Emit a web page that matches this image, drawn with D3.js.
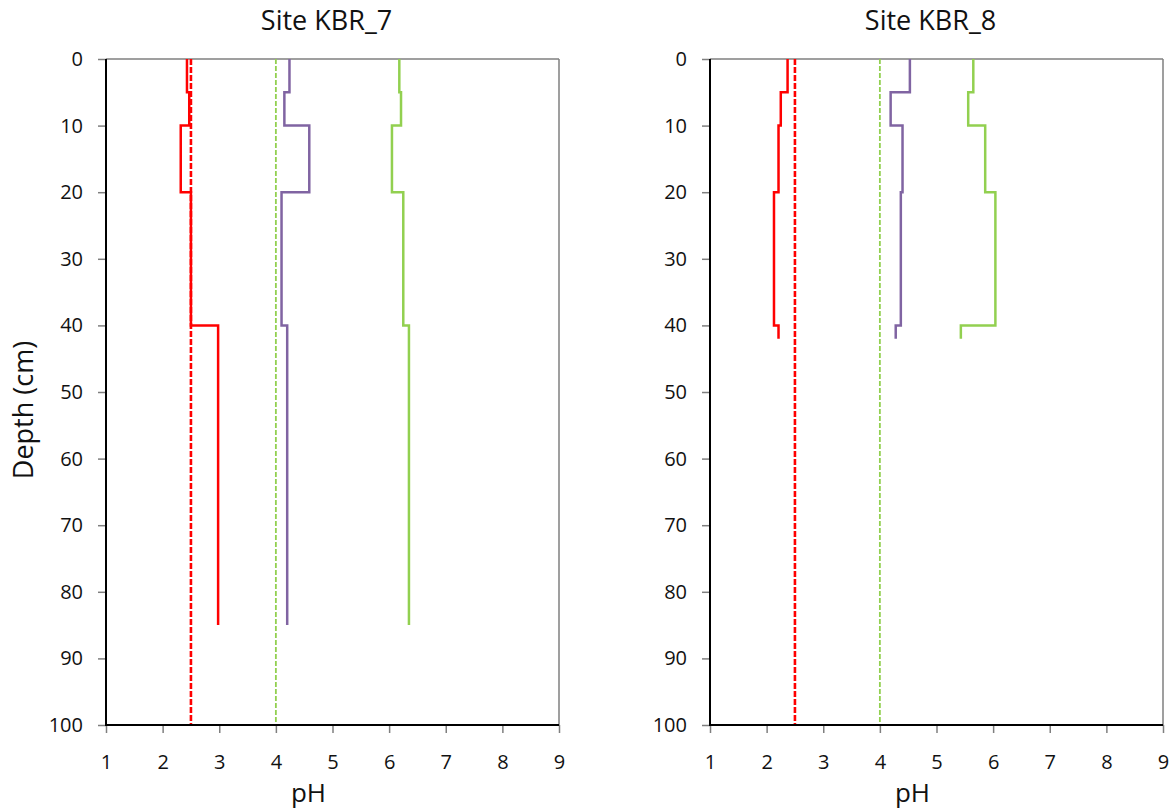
<!DOCTYPE html>
<html><head><meta charset="utf-8">
<script src="https://cdn.jsdelivr.net/npm/d3@7"></script>
<style>body{margin:0;background:#fff;} text{font-family:"Open Sans",sans-serif;fill:#111;}</style>
</head><body>
<svg id="c" width="1176" height="811"></svg>
<script>
// depth intervals (cm) as boundaries; values per interval
const sites = ["Site KBR_7", "Site KBR_8"];
const depths7 = [0, 5, 10, 20, 40, 85];
const red7 = [2.43, 2.47, 2.32, 2.50, 2.98];
const purple7 = [4.24, 4.15, 4.59, 4.10, 4.20];
const green7 = [6.18, 6.21, 6.05, 6.25, 6.35];
const depths8 = [0, 5, 10, 20, 40, 42];
const red8 = [2.37, 2.25, 2.21, 2.13, 2.21];
const purple8 = [4.53, 4.19, 4.40, 4.37, 4.28];
const green8 = [5.65, 5.56, 5.86, 6.04, 5.43];
const refRed = 2.5, refGreen = 4.0;
const xTicks = [1, 2, 3, 4, 5, 6, 7, 8, 9];
const yTicks = [0, 10, 20, 30, 40, 50, 60, 70, 80, 90, 100];

(function () {
const svg = d3.select("#c");
const panels = [
  {title: sites[0], left: 106, depths: depths7, series: [red7, purple7, green7]},
  {title: sites[1], left: 710, depths: depths8, series: [red8, purple8, green8]}
];
const colors = ["#FF0000", "#8064A2", "#92D050"];
const plotTop = 59, plotBottom = 725, plotWidth = 453;
const FONT = "'Open Sans', sans-serif";

function stepPoints(depths, vals) {
  const pts = [];
  vals.forEach((v, i) => { pts.push([v, depths[i]]); pts.push([v, depths[i + 1]]); });
  return pts;
}

panels.forEach(p => {
  const x = d3.scaleLinear().domain([1, 9]).range([p.left, p.left + plotWidth]);
  const y = d3.scaleLinear().domain([0, 100]).range([plotTop, plotBottom]);
  const g = svg.append("g");
  g.append("line").attr("x1", p.left).attr("x2", p.left + plotWidth).attr("y1", plotTop).attr("y2", plotTop).attr("stroke", "#7f7f7f").attr("stroke-width", 1.5);
  g.append("line").attr("x1", p.left + plotWidth).attr("x2", p.left + plotWidth).attr("y1", plotTop).attr("y2", plotBottom).attr("stroke", "#7f7f7f").attr("stroke-width", 1.5);
  g.append("line").attr("x1", x(refRed)).attr("x2", x(refRed)).attr("y1", y(0)).attr("y2", y(100))
    .attr("stroke", "#FF0000").attr("stroke-width", 2.6).attr("stroke-dasharray", "6,2");
  g.append("line").attr("x1", x(refGreen)).attr("x2", x(refGreen)).attr("y1", y(0)).attr("y2", y(100))
    .attr("stroke", "#92D050").attr("stroke-width", 1.8).attr("stroke-dasharray", "5,2");
  const line = d3.line().x(d => x(d[0])).y(d => y(d[1]));
  p.series.forEach((s, i) => {
    g.append("path").attr("d", line(stepPoints(p.depths, s))).attr("fill", "none")
      .attr("stroke", colors[i]).attr("stroke-width", 2.5).attr("stroke-linejoin", "miter");
  });
  const ya = g.append("g").attr("transform", `translate(${p.left},0)`)
    .call(d3.axisLeft(y).tickValues(yTicks).tickSize(8).tickPadding(15).tickFormat(d3.format("d")));
  ya.attr("font-family", FONT).attr("font-size", 20);
  ya.select(".domain").remove();
  ya.selectAll(".tick line").attr("stroke", "#7f7f7f").attr("stroke-width", 1.5);
  ya.selectAll("text").attr("fill", "#111");
  const xa = g.append("g").attr("transform", `translate(0,${plotBottom})`)
    .call(d3.axisBottom(x).tickValues(xTicks).tickSize(8).tickPadding(22).tickFormat(d3.format("d")));
  xa.attr("font-family", FONT).attr("font-size", 20);
  xa.select(".domain").remove();
  xa.selectAll(".tick line").attr("stroke", "#7f7f7f").attr("stroke-width", 1.5);
  xa.selectAll("text").attr("fill", "#111");
  g.append("line").attr("x1", p.left).attr("x2", p.left).attr("y1", plotTop).attr("y2", plotBottom).attr("stroke", "#000").attr("stroke-width", 2);
  g.append("line").attr("x1", p.left - 1).attr("x2", p.left + plotWidth).attr("y1", plotBottom).attr("y2", plotBottom).attr("stroke", "#000").attr("stroke-width", 2);
  g.append("text").attr("x", p.left + plotWidth / 2 - 6).attr("y", 30).attr("text-anchor", "middle").attr("font-size", 27).text(p.title);
  g.append("text").attr("x", p.left + plotWidth / 2 - 24).attr("y", 802).attr("text-anchor", "middle").attr("font-size", 26).text("pH");
});
svg.append("text").attr("transform", "translate(33,410) rotate(-90)").attr("text-anchor", "middle").attr("font-size", 27).text("Depth (cm)");
})();
</script>
</body></html>
